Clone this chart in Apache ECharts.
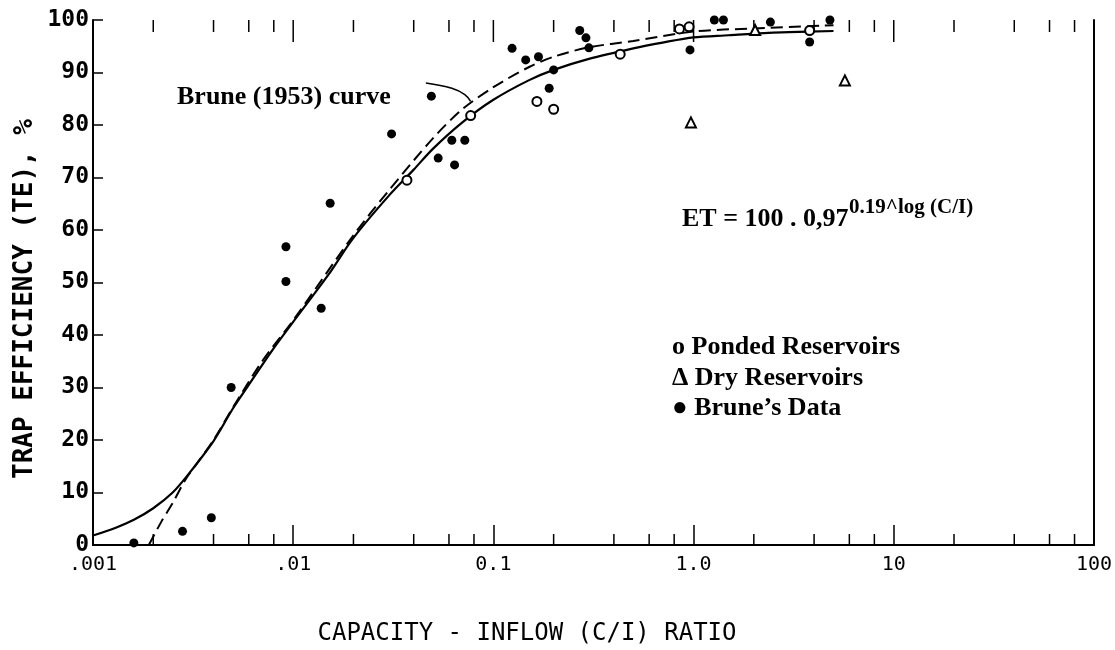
<!DOCTYPE html>
<html>
<head>
<meta charset="utf-8">
<style>
  html, body { margin: 0; padding: 0; background: #fff; }
  #chart { width: 1115px; height: 650px; }
</style>
<script src="https://cdn.jsdelivr.net/npm/echarts@6/dist/echarts.min.js"></script>
</head>
<body>
<div id="chart"></div>
<script>
// ---- Data ----
const xTickValues = [0.001, 0.01, 0.1, 1, 10, 100];
const xTickLabels = ['.001', '.01', '0.1', '1.0', '10', '100'];
const minorTickValues = [0.002, 0.004, 0.006, 0.008, 0.02, 0.04, 0.06, 0.08,
  0.2, 0.4, 0.6, 0.8, 2, 4, 6, 8, 20, 40, 60, 80];

// Solid curve (ET formula curve)
const solidX = [0.001, 0.0013, 0.0016, 0.002, 0.0025, 0.003, 0.004, 0.005, 0.006, 0.008, 0.01, 0.015, 0.02, 0.03, 0.04, 0.05, 0.07, 0.1, 0.15, 0.2, 0.3, 0.5, 0.7, 1, 1.5, 2, 3, 5];
const solidY = [1.8, 3.3, 4.8, 7, 10, 13.5, 19.8, 26, 30.5, 37.5, 42.5, 51.5, 58.5, 66.5, 71.5, 75.5, 80.5, 84.8, 88.5, 90.5, 92.6, 94.6, 95.7, 96.7, 97.1, 97.4, 97.7, 97.9];

// Dashed curve (Brune 1953)
const dashX = [0.0019, 0.0022, 0.0025, 0.0029, 0.0033, 0.004, 0.005, 0.007, 0.01, 0.02, 0.03, 0.05, 0.07, 0.1, 0.15, 0.2, 0.3, 0.5, 1, 2, 5];
const dashY = [0, 4.5, 8, 12.5, 15.5, 20, 26.2, 35, 42.8, 59, 67.5, 77.5, 83, 87.2, 91, 93, 94.8, 96, 97.8, 98.4, 99];

// Pointer from the "Brune (1953) curve" label
const pointerX = [0.046, 0.062, 0.072, 0.077];
const pointerY = [88, 87, 85.8, 84.5];

// Brune's data (filled dots)
const bruneX = [0.0016, 0.0028, 0.0039, 0.0049, 0.0092, 0.0092, 0.0138, 0.0153, 0.031, 0.049, 0.053, 0.064, 0.062, 0.072, 0.124, 0.145, 0.168, 0.2, 0.19, 0.27, 0.29, 0.30, 0.96, 1.27, 1.41, 2.42, 4.8, 3.8];
const bruneY = [0.4, 2.6, 5.2, 30, 56.8, 50.2, 45.1, 65.1, 78.3, 85.5, 73.7, 72.4, 77.1, 77.1, 94.6, 92.4, 93, 90.5, 87, 98, 96.6, 94.7, 94.3, 100, 100, 99.6, 100, 95.8];

// Ponded reservoirs (open circles)
const pondedX = [0.037, 0.077, 0.165, 0.2, 0.43, 0.85, 0.95, 3.8];
const pondedY = [69.5, 81.8, 84.5, 83, 93.5, 98.3, 98.7, 98];

// Dry reservoirs (triangles)
const dryX = [0.97, 2.03, 5.7];
const dryY = [80.5, 98.1, 88.5];

const zip = (xs, ys) => xs.map((x, i) => [x, ys[i]]);

const chart = echarts.init(document.getElementById('chart'), null, { renderer: 'canvas' });

const serifBold = 'bold 26px "Liberation Serif"';

function xLabel(v) {
  for (let i = 0; i < xTickValues.length; i++) {
    if (Math.abs(Math.log10(v) - Math.log10(xTickValues[i])) < 1e-6) return xTickLabels[i];
  }
  return '';
}

const tickData = minorTickValues.map(v => [v, 0]).concat(xTickValues.slice(1, -1).map(v => [v, 1]));

const option = {
  animation: false,
  backgroundColor: '#fff',
  grid: { left: 93, right: 18, top: 20, bottom: 105, containLabel: false },
  xAxis: [
    {
      type: 'log', logBase: 10, min: 0.001, max: 100, position: 'bottom',
      axisLine: { show: true, lineStyle: { color: '#000', width: 2 } },
      axisTick: { show: true, inside: true, length: 20, lineStyle: { color: '#000', width: 1.5 } },
      axisLabel: { show: true, margin: 10, color: '#000', fontFamily: 'DejaVu Sans Mono', fontSize: 20, formatter: xLabel },
      splitLine: { show: false }, minorTick: { show: false }
    },
    {
      type: 'log', logBase: 10, min: 0.001, max: 100, position: 'top',
      axisLine: { show: true, lineStyle: { color: '#000', width: 2 } },
      axisTick: { show: false },
      axisLabel: { show: false }, splitLine: { show: false }
    }
  ],
  yAxis: [
    {
      type: 'value', min: 0, max: 100, interval: 10, position: 'left',
      axisLine: { show: true, lineStyle: { color: '#000', width: 2 } },
      axisTick: { show: true, inside: true, length: 10, lineStyle: { color: '#000', width: 1.5 } },
      axisLabel: { show: true, margin: 4, color: '#000', fontFamily: 'DejaVu Sans Mono', fontWeight: 'bold', fontSize: 23 },
      splitLine: { show: false }
    },
    {
      type: 'value', min: 0, max: 100, interval: 10, position: 'right',
      axisLine: { show: true, lineStyle: { color: '#000', width: 2 } },
      axisTick: { show: false }, axisLabel: { show: false }, splitLine: { show: false }
    }
  ],
  series: [
    {
      name: 'ET curve', type: 'line', data: zip(solidX, solidY), smooth: 0.3,
      symbol: 'none', lineStyle: { color: '#000', width: 2.2 }, z: 3
    },
    {
      name: 'Brune (1953) curve', type: 'line', data: zip(dashX, dashY), smooth: 0.3,
      symbol: 'none', lineStyle: { color: '#000', width: 2, type: [12, 6] }, z: 3
    },
    {
      name: 'pointer', type: 'line', data: zip(pointerX, pointerY), smooth: 0.4,
      symbol: 'none', lineStyle: { color: '#000', width: 1.6 }, z: 3
    },
    {
      name: "Brune's Data", type: 'scatter', data: zip(bruneX, bruneY),
      symbol: 'circle', symbolSize: 9, itemStyle: { color: '#000', opacity: 1 }, z: 4
    },
    {
      name: 'Ponded Reservoirs', type: 'scatter', data: zip(pondedX, pondedY),
      symbol: 'emptyCircle', symbolSize: 9,
      itemStyle: { color: '#000', borderColor: '#000', borderWidth: 2, opacity: 1 }, z: 4
    },
    {
      name: 'Dry Reservoirs', type: 'scatter', data: zip(dryX, dryY),
      symbol: 'emptyTriangle', symbolSize: 10,
      itemStyle: { color: '#000', borderColor: '#000', borderWidth: 1.8, opacity: 1 }, z: 4
    },
    {
      name: 'extra ticks', type: 'custom', xAxisIndex: 0, yAxisIndex: 0,
      data: tickData,
      encode: { x: 0 },
      silent: true, z: 2,
      renderItem: function (params, api) {
        const v = api.value(0);
        const major = api.value(1) === 1;
        const b = api.coord([v, 0]);
        const t = api.coord([v, 100]);
        const children = [
          { type: 'line', shape: { x1: t[0], y1: t[1], x2: t[0], y2: t[1] + (major ? 22 : 12) }, style: { stroke: '#000', lineWidth: 1.5 } }
        ];
        if (!major) {
          children.push({ type: 'line', shape: { x1: b[0], y1: b[1], x2: b[0], y2: b[1] - 11 }, style: { stroke: '#000', lineWidth: 1.5 } });
        }
        return { type: 'group', children: children };
      }
    }
  ],
  graphic: [
    { type: 'text', x: 25, y: 299, rotation: Math.PI / 2,
      style: { text: 'TRAP EFFICIENCY (TE), %', font: 'bold 26px "DejaVu Sans Mono"', fill: '#000', align: 'center', verticalAlign: 'middle' } },
    { type: 'text', x: 527, y: 634,
      style: { text: 'CAPACITY - INFLOW (C/I) RATIO', font: '24px "DejaVu Sans Mono"', fill: '#000', align: 'center', verticalAlign: 'middle' } },
    { type: 'text', x: 177, y: 97,
      style: { text: 'Brune (1953) curve', font: serifBold, fill: '#000', align: 'left', verticalAlign: 'middle' } },
    { type: 'text', x: 682, y: 219,
      style: { text: 'ET = 100 . 0,97', font: serifBold, fill: '#000', align: 'left', verticalAlign: 'middle' } },
    { type: 'text', x: 849, y: 208,
      style: { text: '0.19^log (C/I)', font: 'bold 21px "Liberation Serif"', fill: '#000', align: 'left', verticalAlign: 'middle' } },
    { type: 'text', x: 672, y: 347,
      style: { text: 'o Ponded Reservoirs', font: serifBold, fill: '#000', align: 'left', verticalAlign: 'middle' } },
    { type: 'text', x: 672, y: 378,
      style: { text: 'Δ Dry Reservoirs', font: serifBold, fill: '#000', align: 'left', verticalAlign: 'middle' } },
    { type: 'text', x: 672, y: 408,
      style: { text: '● Brune’s Data', font: serifBold, fill: '#000', align: 'left', verticalAlign: 'middle' } }
  ]
};

chart.setOption(option);
</script>
</body>
</html>
